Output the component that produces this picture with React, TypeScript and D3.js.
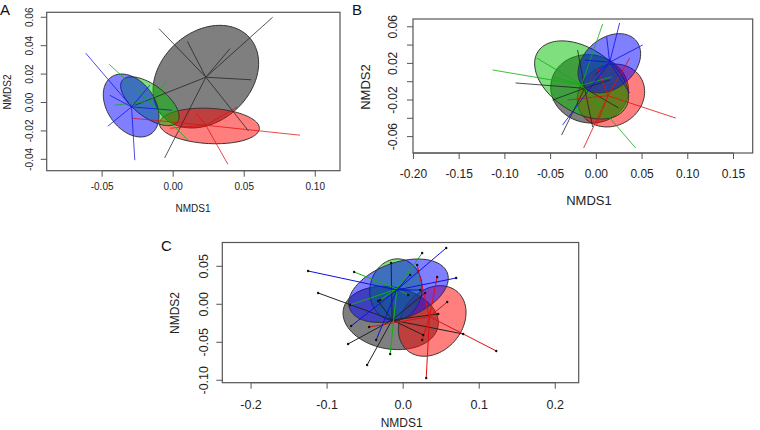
import React from 'react';
import * as d3 from 'd3';

type Pt = [number, number];
type Ell = [number, number, number, number, number]; // cx, cy, semi-major, semi-minor, angle (deg)

// groups, in drawing order
const groups = ['black', 'red', 'green', 'blue'];
const fills = ['rgba(0,0,0,0.5)', 'rgba(255,0,0,0.5)', 'rgba(0,192,0,0.5)', 'rgba(0,0,255,0.5)'];
const strokes = ['#222', '#e01010', '#10b010', '#1010e0'];

// ---- panel A ----
const aCentroids: Pt[] = [[0.023, 0.0178], [0.023, -0.016], [-0.0164, 0.0009], [-0.0293, -0.0031]];
const aEllipses: Ell[] = [
  [0.023, 0.0182, 0.0412, 0.0314, 42],
  [0.0255, -0.0165, 0.0352, 0.0124, -3],
  [-0.0164, 0.0009, 0.0243, 0.0113, -37],
  [-0.0296, -0.0021, 0.0244, 0.0167, -55],
];
const aPoints: Pt[][] = [
  [[-0.010, 0.052], [0.010, 0.043], [0.040, 0.038], [0.070, 0.060], [0.055, 0.016], [0.053, -0.020], [-0.006, -0.039], [-0.027, -0.002]],
  [[0.0892, -0.023], [0.0385, -0.0435], [0.0449, -0.0033], [-0.0284, -0.0111], [-0.0023, -0.0181], [0.016, -0.0075]],
  [[-0.0452, 0.027], [-0.0044, 0.015], [0.0104, -0.0265], [-0.0411, -0.0019], [-0.0094, -0.0068]],
  [[-0.027, -0.0406], [-0.046, -0.0167], [-0.0615, 0.0347], [-0.0009, -0.0054], [-0.0446, 0.0051], [-0.0164, 0.0122]],
];
const aXTicks = [-0.05, 0, 0.05, 0.1];
const aYTicks = [-0.04, -0.02, 0, 0.02, 0.04, 0.06];

// ---- panel B ----
const bCentroids: Pt[] = [[-0.0128, -0.0072], [0.0127, -0.0153], [-0.0161, -0.0036], [0.0146, 0.0212]];
const bEllipses: Ell[] = [
  [-0.0073, -0.0078, 0.0427, 0.0372, -10],
  [0.016, -0.0151, 0.038, 0.033, 30],
  [-0.0161, 0.0019, 0.0569, 0.035, -33],
  [0.0142, 0.0201, 0.0383, 0.0274, 40],
];
const bPoints: Pt[][] = [
  [[-0.0883, -0.0014], [-0.038, -0.0583], [-0.004, -0.0495], [0.0244, -0.0287], [-0.0205, 0.0346], [-0.0478, -0.02], [0.0146, 0.0019]],
  [[0.0868, -0.0397], [-0.0139, -0.0725], [0.0364, 0.0259], [-0.0314, -0.02], [0.0003, -0.0473], [0.0255, 0.0073], [0.0014, 0.015]],
  [[0.0069, 0.0631], [-0.1135, 0.0128], [0.043, -0.0725], [-0.0653, 0.0259], [0.0167, 0.0051], [-0.0478, 0.0051]],
  [[0.0255, 0.0642], [0.0113, 0.0489], [0.0507, 0.0401], [-0.0369, -0.0473], [0.0364, -0.0123], [-0.0019, 0.0073], [-0.0128, 0.0237]],
];
const bXTicks = [-0.2, -0.15, -0.1, -0.05, 0, 0.05, 0.1, 0.15];
const bYTicks = [-0.06, -0.04, -0.02, 0, 0.02, 0.04, 0.06];
const bYLabels = [-0.06, -0.02, 0.02, 0.06];

// ---- panel C ----
const cCentroids: Pt[] = [[-0.0145, -0.0207], [0.0346, -0.0163], [-0.0083, 0.0201], [-0.0083, 0.0188]];
const cEllipses: Ell[] = [
  [-0.0164, -0.018, 0.0632, 0.0408, -10],
  [0.0382, -0.022, 0.0507, 0.0395, 50],
  [-0.0095, 0.0192, 0.0408, 0.0342, 80],
  [-0.0062, 0.0178, 0.0684, 0.0368, 20],
];
const cPoints: Pt[][] = [
  [[-0.1118, 0.0149], [-0.0724, -0.0522], [-0.0474, -0.0799], [-0.0329, 0.0043], [-0.0158, 0.0543], [0.0461, -0.0128], [0.0789, -0.0391], [0.0263, -0.0404], [0.0289, 0.0149]],
  [[0.1224, -0.0614], [0.0303, -0.097], [-0.0447, -0.0299], [0.0579, 0.003], [0.0447, 0.0359], [0.0184, 0.0517], [0.025, -0.047]],
  [[0.025, 0.0675], [-0.0645, 0.0425], [-0.0171, -0.0654], [-0.0697, -0.0009], [0.0066, 0.0122], [-0.0303, 0.0057]],
  [[-0.125, 0.0438], [0.0566, 0.0741], [0.0697, 0.0346], [-0.0684, -0.0286], [-0.0355, -0.047], [0.0224, 0.0188], [0.0092, 0.0386]],
];
const cXTicks = [-0.2, -0.1, 0, 0.1, 0.2];
const cYTicks = [-0.1, -0.05, 0, 0.05];

const font = 'Liberation Sans, Arial, sans-serif';

function Panel(p: any) {
  const { box, xDom, yDom, xTicks, yTicks, yLabels, xFmt, yFmt, tickSize, labelSize,
    xTickDy, yTickDx, xLab, yLab, letter, centroids, ellipses, points, dots, lineOpacity } = p;
  const x = d3.scaleLinear().domain(xDom).range([box.left, box.right]);
  const y = d3.scaleLinear().domain(yDom).range([box.bottom, box.top]);

  const ellPath = (e: Ell) => {
    const [cx, cy, a, b, ang] = e;
    const t = (ang * Math.PI) / 180;
    const pts: Pt[] = d3.range(0, 360, 3).map(deg => {
      const u = (deg * Math.PI) / 180;
      const dx = a * Math.cos(u), dy = b * Math.sin(u);
      return [cx + dx * Math.cos(t) - dy * Math.sin(t), cy + dx * Math.sin(t) + dy * Math.cos(t)] as Pt;
    });
    return d3.line<Pt>().x(d => x(d[0])).y(d => y(d[1])).curve(d3.curveLinearClosed)(pts) || '';
  };

  return (
    <g fontFamily={font} fill="#222">
      {ellipses.map((e: Ell, i: number) => (
        <path key={'e' + i} d={ellPath(e)} fill={fills[i]} stroke="#333" strokeWidth={1} />
      ))}
      {points.map((grp: Pt[], i: number) => (
        <g key={'s' + i} stroke={strokes[i]} strokeWidth={1} opacity={lineOpacity}>
          {grp.map((d, j) => (
            <line key={j} x1={x(centroids[i][0])} y1={y(centroids[i][1])} x2={x(d[0])} y2={y(d[1])} />
          ))}
        </g>
      ))}
      {dots && points.map((grp: Pt[], i: number) => grp.map((d, j) => (
        <circle key={`d${i}-${j}`} cx={x(d[0])} cy={y(d[1])} r={1.2} fill="#111" />
      )))}
      <rect x={box.left} y={box.top} width={box.right - box.left} height={box.bottom - box.top}
        fill="none" stroke="#555" strokeWidth={1.2} />
      {/* x axis */}
      <line x1={x(xTicks[0])} x2={x(xTicks[xTicks.length - 1])} y1={box.bottom} y2={box.bottom} stroke="#555" />
      {xTicks.map((t: number) => (
        <g key={'xt' + t}>
          <line x1={x(t)} x2={x(t)} y1={box.bottom} y2={box.bottom + 6} stroke="#555" />
          <text x={x(t)} y={box.bottom + xTickDy} textAnchor="middle" dy="0.35em" fontSize={tickSize}>{xFmt(t)}</text>
        </g>
      ))}
      {/* y axis */}
      {yTicks.map((t: number) => (
        <line key={'yt' + t} x1={box.left} x2={box.left - 6} y1={y(t)} y2={y(t)} stroke="#555" />
      ))}
      {yLabels.map((t: number) => (
        <text key={'yl' + t} x={box.left - yTickDx} y={y(t)} textAnchor="middle" dy="0.35em" fontSize={tickSize}
          transform={`rotate(-90, ${box.left - yTickDx}, ${y(t)})`}>{yFmt(t)}</text>
      ))}
      <text x={xLab[0]} y={xLab[1]} textAnchor="middle" dy="0.35em" fontSize={labelSize}>NMDS1</text>
      <text x={yLab[0]} y={yLab[1]} textAnchor="middle" dy="0.35em" fontSize={labelSize}
        transform={`rotate(-90, ${yLab[0]}, ${yLab[1]})`}>NMDS2</text>
      <text x={letter[1]} y={letter[2]} fontSize={15} fill="#111">{letter[0]}</text>
    </g>
  );
}

export default function App() {
  const f2 = d3.format('.2f');
  const f1 = d3.format('.1f');
  const fmt = (f: (n: number) => string) => (v: number) => f(v).replace('−', '-');
  return (
    <svg width={760} height={430} style={{ position: 'absolute', left: 0, top: 0, background: '#fff' }}>
      <Panel box={{ left: 46.7, right: 340, top: 12.3, bottom: 170.7 }}
        xDom={[-0.089, 0.1174]} yDom={[-0.048, 0.0635]}
        xTicks={aXTicks} yTicks={aYTicks} yLabels={aYTicks} xFmt={fmt(f2)} yFmt={fmt(f2)}
        tickSize={10} labelSize={10} xTickDy={16} yTickDx={17}
        xLab={[193, 208]} yLab={[7, 92]} letter={['A', 0, 15]}
        centroids={aCentroids} ellipses={aEllipses} points={aPoints} dots={false} lineOpacity={0.75} />
      <Panel box={{ left: 413, right: 752.7, top: 19, bottom: 153 }}
        xDom={[-0.2005, 0.171]} yDom={[-0.0779, 0.0685]}
        xTicks={bXTicks} yTicks={bYTicks} yLabels={bYLabels} xFmt={fmt(f2)} yFmt={fmt(f2)}
        tickSize={12} labelSize={13} xTickDy={21} yTickDx={20}
        xLab={[589, 200]} yLab={[365, 87]} letter={['B', 352, 15]}
        centroids={bCentroids} ellipses={bEllipses} points={bPoints} dots={false} lineOpacity={0.8} />
      <Panel box={{ left: 222.3, right: 578.7, top: 242.5, bottom: 382.7 }}
        xDom={[-0.2378, 0.2308]} yDom={[-0.1032, 0.0813]}
        xTicks={cXTicks} yTicks={cYTicks} yLabels={cYTicks} xFmt={fmt(f1)} yFmt={fmt(f2)}
        tickSize={12.5} labelSize={12} xTickDy={22} yTickDx={19}
        xLab={[401.7, 423]} yLab={[175, 313]} letter={['C', 161, 251]}
        centroids={cCentroids} ellipses={cEllipses} points={cPoints} dots={true} lineOpacity={1} />
    </svg>
  );
}
